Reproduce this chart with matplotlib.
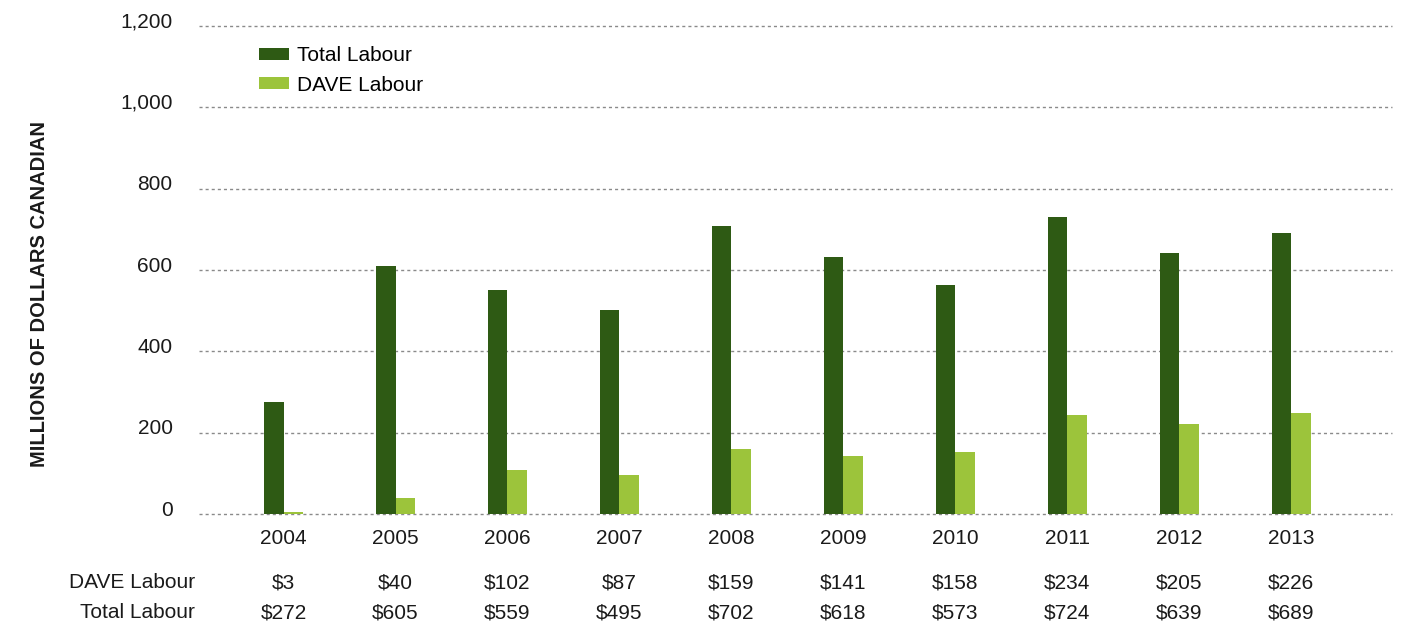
import matplotlib
matplotlib.use("Agg")
import matplotlib.pyplot as plt
import matplotlib.transforms as mtransforms
import numpy as np

plt.rcParams['font.family'] = ['Liberation Sans', 'DejaVu Sans']

years = ['2004', '2005', '2006', '2007', '2008', '2009', '2010', '2011', '2012', '2013']
# bar heights as drawn in the picture (millions of dollars)
total_labour = [276, 611, 552, 502, 707, 632, 563, 730, 643, 690]
dave_labour = [6, 40, 109, 95, 159, 142, 153, 244, 221, 249]
# values printed in the table under the chart
dave_table = ['$3', '$40', '$102', '$87', '$159', '$141', '$158', '$234', '$205', '$226']
total_table = ['$272', '$605', '$559', '$495', '$702', '$618', '$573', '$724', '$639', '$689']
y_ticks = [0, 200, 400, 600, 800, 1000, 1200]
y_tick_labels = ['0', '200', '400', '600', '800', '1,000', '1,200']

dark = '#2E5A14'
light = '#9CC43B'
txt = '#1a1a1a'
fs = 15

fig = plt.figure(figsize=(14.06, 6.23), dpi=100)
ax = fig.add_axes([199/1406, 1-514/623, (1392-199)/1406, (514-26)/623])

x = np.arange(len(years))
w = 0.173
ax.bar(x - w/2, total_labour, width=w, color=dark, label='Total Labour', zorder=3)
ax.bar(x + w/2, dave_labour, width=w, color=light, label='DAVE Labour', zorder=3)

ax.set_xlim(-0.755, 9.90)
ax.set_ylim(0, 1200)

for t in y_ticks:
    ax.axhline(t, color='#8a8a8a', linewidth=1.0, linestyle=(0, (2.2, 2.2)), zorder=1, clip_on=False)

for s in ax.spines.values():
    s.set_visible(False)

ax.set_yticks(y_ticks)
ax.set_yticklabels(y_tick_labels)
ax.set_xticks(x)
ax.set_xticklabels(years)
ax.tick_params(axis='both', length=0, labelsize=fs, colors=txt)
ax.tick_params(axis='y', pad=19)
ax.tick_params(axis='x', pad=10.5)
offset = mtransforms.ScaledTranslation(0, 6/100, fig.dpi_scale_trans)
for lab in ax.get_yticklabels():
    lab.set_transform(lab.get_transform() + offset)

fig.text(40/1406, 1-294/623, 'MILLIONS OF DOLLARS CANADIAN', rotation=90,
         ha='center', va='center', fontsize=14.5, fontweight='bold', color=txt)

leg = ax.legend(loc='upper left', bbox_to_anchor=(52/1193, 1-12/488), frameon=False,
                fontsize=fs, handlelength=1.4, handleheight=0.5, labelspacing=0.5,
                handletextpad=0.4, borderaxespad=0)

trans = mtransforms.blended_transform_factory(ax.transData, fig.transFigure)
y1 = 1 - 583/623
y2 = 1 - 613/623
fig.text(195/1406, y1, 'DAVE Labour', ha='right', va='center', fontsize=fs, color=txt)
fig.text(195/1406, y2, 'Total Labour', ha='right', va='center', fontsize=fs, color=txt)
for i in range(len(years)):
    ax.text(x[i], y1, dave_table[i], transform=trans, ha='center', va='center', fontsize=fs, color=txt)
    ax.text(x[i], y2, total_table[i], transform=trans, ha='center', va='center', fontsize=fs, color=txt)

fig.savefig('out.png', dpi=100)
